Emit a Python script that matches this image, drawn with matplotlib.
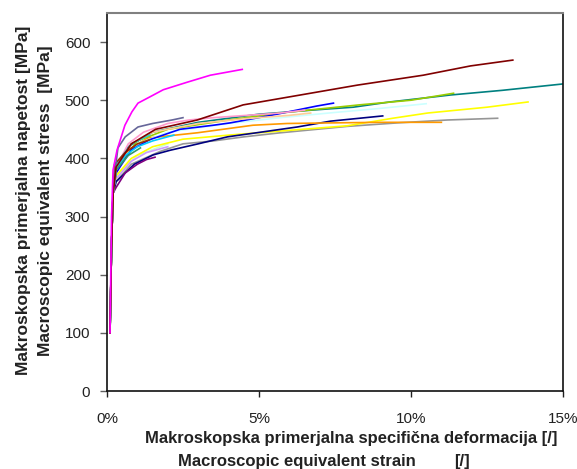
import matplotlib.pyplot as plt
from matplotlib.ticker import PercentFormatter

plt.rcParams['font.family'] = ['Liberation Sans', 'DejaVu Sans']

# strain in %, stress in MPa
elastic_x = [0.10, 0.15, 0.20]
elastic_y = [100, 250, 340]

magenta_x = [0.10, 0.15, 0.20, 0.33, 0.59, 0.82, 1.02, 1.42, 1.85, 2.64, 3.4, 4.45]
magenta_y = [100, 300, 380, 414, 457, 480, 495, 506, 518, 531, 543, 553]

maroon_x = [0.3, 0.8, 1.6, 2.97, 4.48, 6.36, 8.24, 10.4, 11.96, 13.35]
maroon_y = [385, 425, 450, 466, 492, 509, 526, 543, 559, 569]

teal_x = [0.3, 0.7, 1.5, 3.0, 5.0, 7.0, 8.1, 9.3, 11.3, 13.0, 15.0]
teal_y = [380, 420, 445, 462, 476, 484, 488, 497, 509, 517, 528]

lime_x = [0.3, 1.0, 2.0, 4.0, 5.7, 8.3, 10.0, 11.4]
lime_y = [380, 430, 450, 466, 478, 492, 500, 512]

ltcyan_x = [0.3, 1.0, 2.0, 4.0, 5.7, 7.5, 9.0, 10.5]
ltcyan_y = [378, 425, 445, 460, 470, 479, 486, 494]

blue_x = [0.3, 0.8, 1.4, 2.4, 3.5, 4.05, 5.4, 6.9, 7.45]
blue_y = [375, 415, 432, 450, 457, 461, 474, 490, 495]

navy_x = [0.3, 0.9, 1.52, 2.08, 3.0, 3.96, 5.05, 6.26, 7.35, 9.07]
navy_y = [360, 390, 406, 414, 425, 437, 445, 454, 464, 473]

yellow_x = [0.3, 0.8, 1.5, 2.5, 4.0, 5.7, 7.9, 9.4, 10.55, 12.5, 13.85]
yellow_y = [370, 400, 420, 433, 440, 447, 456, 469, 478, 488, 497]

gray_x = [0.3, 0.8, 1.75, 2.5, 3.5, 4.5, 5.7, 7.9, 9.55, 11.2, 12.85]
gray_y = [360, 390, 412, 425, 430, 437, 444, 455, 461, 466, 469]

orange_x = [0.3, 0.7, 1.35, 2.97, 4.8, 5.93, 7.35, 9.0, 11.0]
orange_y = [375, 415, 435, 444, 457, 460, 461, 462, 462]

purple_x = [0.3, 0.6, 1.0, 1.3, 1.58]
purple_y = [350, 375, 390, 398, 402]

slate_x = [0.2, 0.36, 0.6, 1.02, 1.5, 2.14, 2.5]
slate_y = [350, 418, 437, 454, 460, 466, 470]

pink_x = [0.3, 0.7, 1.2, 2.0, 2.7, 3.5, 4.6, 5.7, 6.5]
pink_y = [385, 425, 445, 460, 466, 470, 474, 478, 483]

tan_x = [0.3, 0.8, 1.5, 3.0, 4.5, 6.0, 6.7]
tan_y = [380, 425, 445, 460, 468, 474, 478]

skyblue_x = [0.3, 0.6, 1.0, 1.5, 2.2]
skyblue_y = [380, 405, 420, 430, 440]

brown_x = [0.25, 0.6, 1.0, 1.4]
brown_y = [390, 410, 425, 432]

green_x = [0.3, 0.7, 1.1]
green_y = [380, 405, 418]

lavender_x = [0.3, 0.8, 1.3, 2.0]
lavender_y = [365, 395, 410, 420]

aqua_x = [0.3, 0.8, 1.4]
aqua_y = [390, 425, 440]

ltgreen_x = [0.3, 1.0, 2.0]
ltgreen_y = [370, 405, 425]

curves = [
    (ltgreen_x, ltgreen_y, '#CCFFCC'),
    (lavender_x, lavender_y, '#CC99FF'),
    (gray_x, gray_y, '#969696'),
    (yellow_x, yellow_y, '#FFFF00'),
    (navy_x, navy_y, '#000080'),
    (purple_x, purple_y, '#800080'),
    (orange_x, orange_y, '#FF9900'),
    (ltcyan_x, ltcyan_y, '#CCFFFF'),
    (teal_x, teal_y, '#008080'),
    (lime_x, lime_y, '#99CC00'),
    (blue_x, blue_y, '#0000FF'),
    (tan_x, tan_y, '#FFCC99'),
    (pink_x, pink_y, '#FF99CC'),
    (skyblue_x, skyblue_y, '#00CCFF'),
    (aqua_x, aqua_y, '#33CCCC'),
    (green_x, green_y, '#339966'),
    (brown_x, brown_y, '#993300'),
    (slate_x, slate_y, '#666699'),
    (maroon_x, maroon_y, '#800000'),
    (magenta_x, magenta_y, '#FF00FF'),
]

fig = plt.figure(figsize=(5.77, 4.69), dpi=100)
ax = fig.add_axes([0.1854, 0.1663, 0.7903, 0.806])

for x, y, c in curves:
    if x[0] > elastic_x[-1]:
        x = elastic_x + x
        y = elastic_y + y
    ax.plot(x, y, color=c, lw=1.2)

ax.set_xlim(0, 15)
ax.set_ylim(0, 650)
ax.set_xticks([0, 5, 10, 15])
ax.set_yticks([0, 100, 200, 300, 400, 500, 600])
ax.xaxis.set_major_formatter(PercentFormatter(xmax=100, decimals=0))
ax.tick_params(axis='y', direction='out', length=5, width=1, color='#606060',
               pad=7, labelsize=11, labelcolor='#222222')
ax.tick_params(axis='x', direction='out', length=4, width=1, color='#202020',
               pad=11, labelsize=11, labelcolor='#222222')
ax.spines['top'].set_color('#808080')
ax.spines['top'].set_linewidth(1.5)
for s in ['left', 'right', 'bottom']:
    ax.spines[s].set_color('#111111')
    ax.spines[s].set_linewidth(1.2)

lab = dict(fontsize=12, fontweight='bold', color='#222222')
fig.text(0.040, 0.572, 'Makroskopska primerjalna napetost [MPa]', rotation=90,
         ha='center', va='center', fontsize=12.5, fontweight='bold', color='#222222')
fig.text(0.079, 0.572, 'Macroscopic equivalent stress  [MPa]', rotation=90,
         ha='center', va='center', fontsize=12.5, fontweight='bold', color='#222222')
fig.text(0.608, 0.066, 'Makroskopska primerjalna specifična deformacija [/]',
         ha='center', va='center', **lab)
fig.text(0.514, 0.017, 'Macroscopic equivalent strain',
         ha='center', va='center', **lab)
fig.text(0.80, 0.017, '[/]', ha='center', va='center', **lab)

fig.savefig('out.png', dpi=100)
